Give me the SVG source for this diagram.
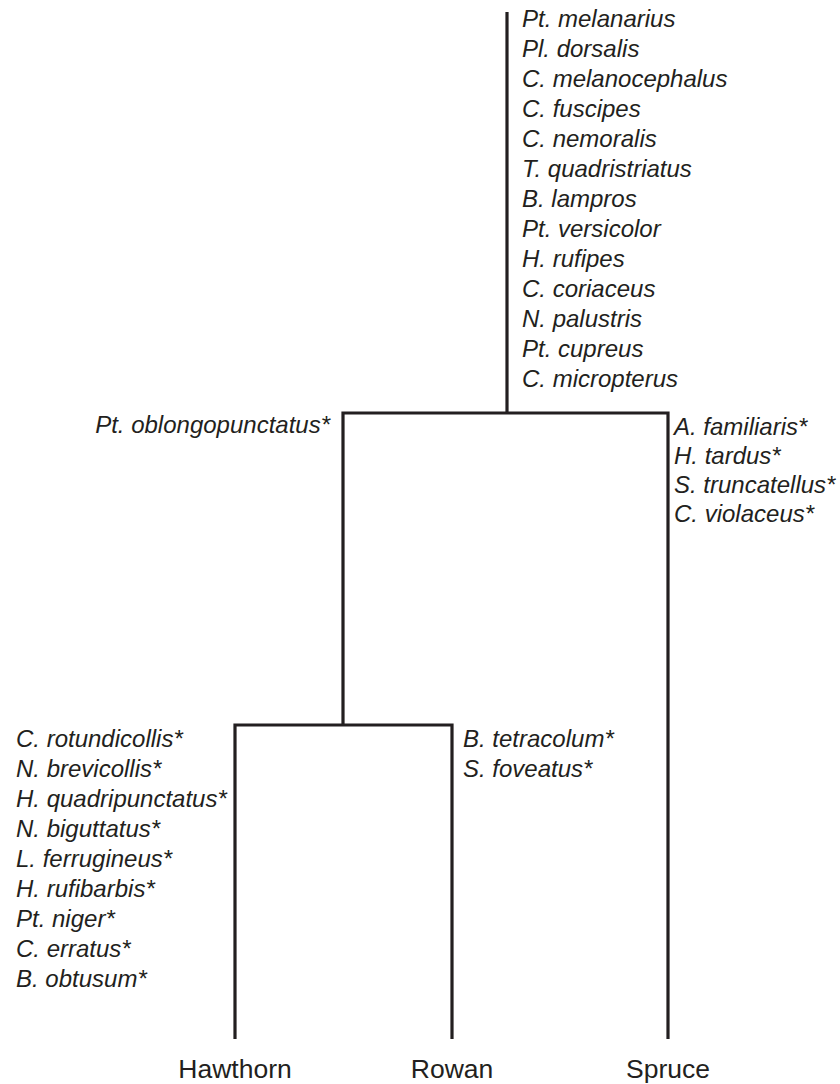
<svg xmlns="http://www.w3.org/2000/svg" width="840" height="1084" viewBox="0 0 840 1084">
<style>
.sp{font-family:"Liberation Sans",Arial,sans-serif;font-style:italic;font-size:24px;fill:#231f20}
.grp{font-family:"Liberation Sans",Arial,sans-serif;font-size:26.5px;fill:#231f20;text-anchor:middle}
.ln{fill:none;stroke:#231f20;stroke-width:3.2;stroke-linecap:butt;stroke-linejoin:miter}
</style>
<rect width="840" height="1084" fill="#ffffff"/>
<g id="connectors">
<path class="ln" d="M507,12 V413"/>
<path class="ln" d="M343,725 V413 H668 V1039"/>
<path class="ln" d="M235,1039 V725 H452 V1039"/>
</g>
<g id="node-root">
<text class="sp" x="522" y="27">Pt. melanarius</text>
<text class="sp" x="522" y="57">Pl. dorsalis</text>
<text class="sp" x="522" y="87">C. melanocephalus</text>
<text class="sp" x="522" y="117">C. fuscipes</text>
<text class="sp" x="522" y="147">C. nemoralis</text>
<text class="sp" x="522" y="177">T. quadristriatus</text>
<text class="sp" x="522" y="207">B. lampros</text>
<text class="sp" x="522" y="237">Pt. versicolor</text>
<text class="sp" x="522" y="267">H. rufipes</text>
<text class="sp" x="522" y="297">C. coriaceus</text>
<text class="sp" x="522" y="327">N. palustris</text>
<text class="sp" x="522" y="357">Pt. cupreus</text>
<text class="sp" x="522" y="387">C. micropterus</text>
</g>
<g id="node-broadleaf">
<text class="sp" x="330" y="433" text-anchor="end">Pt. oblongopunctatus*</text>
</g>
<g id="node-spruce-species">
<text class="sp" x="674" y="435">A. familiaris*</text>
<text class="sp" x="674" y="464">H. tardus*</text>
<text class="sp" x="674" y="493">S. truncatellus*</text>
<text class="sp" x="674" y="522">C. violaceus*</text>
</g>
<g id="node-hawthorn-species">
<text class="sp" x="16" y="747">C. rotundicollis*</text>
<text class="sp" x="16" y="777">N. brevicollis*</text>
<text class="sp" x="16" y="807">H. quadripunctatus*</text>
<text class="sp" x="16" y="837">N. biguttatus*</text>
<text class="sp" x="16" y="867">L. ferrugineus*</text>
<text class="sp" x="16" y="897">H. rufibarbis*</text>
<text class="sp" x="16" y="927">Pt. niger*</text>
<text class="sp" x="16" y="957">C. erratus*</text>
<text class="sp" x="16" y="987">B. obtusum*</text>
</g>
<g id="node-rowan-species">
<text class="sp" x="463" y="747">B. tetracolum*</text>
<text class="sp" x="463" y="777">S. foveatus*</text>
</g>
<g id="node-hawthorn">
<text class="grp" x="235" y="1078">Hawthorn</text>
</g>
<g id="node-rowan">
<text class="grp" x="452" y="1078">Rowan</text>
</g>
<g id="node-spruce">
<text class="grp" x="668" y="1078">Spruce</text>
</g>
</svg>
